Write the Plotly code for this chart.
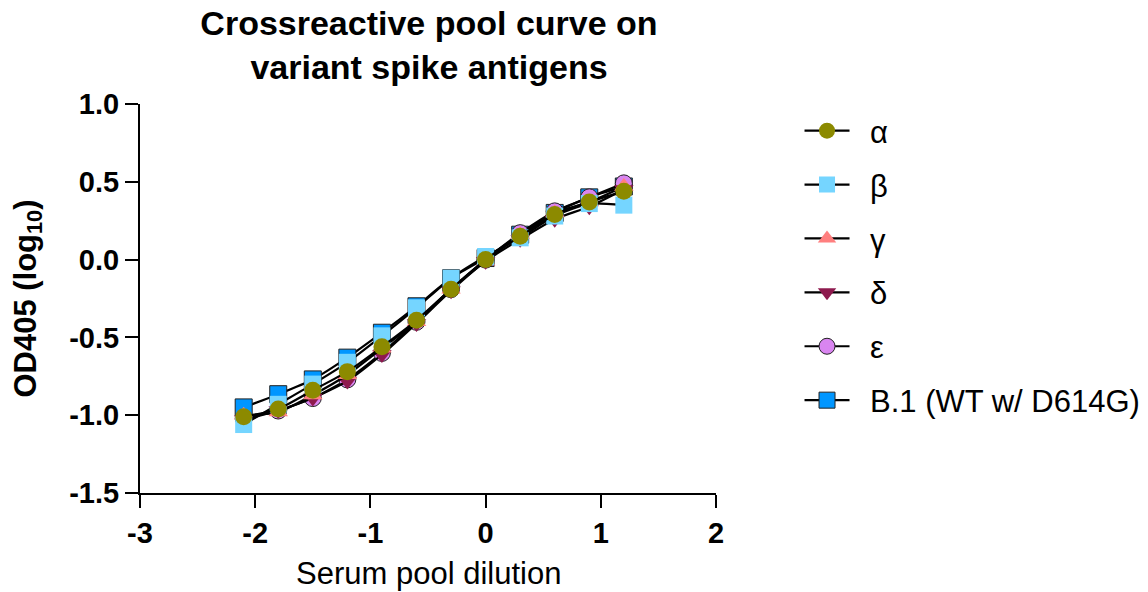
import plotly.graph_objects as go

# Serum pool dilution (log10)
dilution = [-2.1, -1.8, -1.5, -1.2, -0.9, -0.6, -0.3, 0.0, 0.3, 0.6, 0.9, 1.2]

# OD405 (log10) per variant spike antigen
alpha = [-1.01, -0.96, -0.84, -0.72, -0.56, -0.39, -0.19, 0.00, 0.15, 0.29, 0.37, 0.44]
beta = [-1.06, -0.93, -0.80, -0.66, -0.49, -0.31, -0.12, 0.02, 0.14, 0.28, 0.36, 0.35]
gamma = [-1.00, -0.98, -0.87, -0.74, -0.57, -0.40, -0.19, -0.01, 0.16, 0.30, 0.37, 0.47]
delta = [-1.03, -0.97, -0.89, -0.78, -0.61, -0.41, -0.20, -0.01, 0.13, 0.26, 0.34, 0.45]
epsilon = [-1.02, -0.97, -0.89, -0.77, -0.60, -0.40, -0.19, 0.00, 0.17, 0.31, 0.40, 0.49]
b1 = [-0.95, -0.865, -0.77, -0.63, -0.47, -0.30, -0.12, 0.01, 0.16, 0.30, 0.40, 0.47]

x_ticks = [-3, -2, -1, 0, 1, 2]
x_labels = ["-3", "-2", "-1", "0", "1", "2"]
y_ticks = [-1.5, -1.0, -0.5, 0.0, 0.5, 1.0]
y_labels = ["-1.5", "-1.0", "-0.5", "0.0", "0.5", "1.0"]

series = [
    ("α", alpha, "circle", "#8C8A00", 0),
    ("β", beta, "square", "#75D5FF", 0),
    ("γ", gamma, "triangle-up", "#FF7F7F", 0),
    ("δ", delta, "triangle-down", "#8E1A4E", 0),
    ("ε", epsilon, "circle", "#D985F0", 1),
    ("B.1 (WT w/ D614G)", b1, "square", "#0096FF", 1),
]

FONT = "Liberation Sans, Arial, sans-serif"

fig = go.Figure()
# draw last legend entry first so α sits on top
for i, (name, ys, sym, col, outline) in reversed(list(enumerate(series))):
    fig.add_trace(go.Scatter(
        x=dilution, y=ys, name="\u2002" + name, mode="lines+markers",
        line=dict(color="black", width=2.2, shape="spline", smoothing=0.6),
        marker=dict(symbol=sym, size=17, color=col,
                    line=dict(color="#222222", width=outline)),
        legendrank=i + 1, legendgroup=name,
    ))

fig.update_layout(
    width=1148, height=592,
    margin=dict(l=140, r=432, t=104, b=99, autoexpand=False),
    plot_bgcolor="white", paper_bgcolor="white",
    font=dict(family=FONT, color="black"),
    title=dict(text="<b>Crossreactive pool curve on<br>variant spike antigens</b>",
               x=429 / 1148, xanchor="center",
               y=1 - 35 / 592, yanchor="middle",
               font=dict(size=34, family=FONT, color="black")),
    showlegend=True,
    legend=dict(x=1.145, y=1.0, xanchor="left", yanchor="top",
                font=dict(size=31, family=FONT, color="black"),
                itemwidth=45, tracegroupgap=10.6, traceorder="grouped",
                bgcolor="rgba(0,0,0,0)"),
    annotations=[
        dict(text="Serum pool dilution", xref="paper", yref="paper",
             x=0.5, y=-0.208, xanchor="center", yanchor="middle", showarrow=False,
             font=dict(size=31, family=FONT, color="black")),
        dict(text="<b>OD405 (log<sub>10</sub>)</b>", xref="paper", yref="paper",
             x=-0.196, y=0.5, xanchor="center", yanchor="middle", showarrow=False,
             textangle=-90, font=dict(size=31, family=FONT, color="black")),
    ],
)

fig.update_xaxes(
    range=[-3, 2], tickvals=x_ticks, ticktext=x_labels,
    showline=True, linecolor="black", linewidth=2,
    ticks="outside", ticklen=13, tickwidth=2, tickcolor="black",
    showgrid=False, zeroline=False, automargin=False,
    tickfont=dict(size=29, family=FONT, color="black", weight="bold"),
)
fig.update_yaxes(
    range=[-1.5, 1.0], tickvals=y_ticks, ticktext=y_labels,
    showline=True, linecolor="black", linewidth=2,
    ticks="outside", ticklen=13, tickwidth=2, tickcolor="black",
    showgrid=False, zeroline=False, automargin=False,
    tickfont=dict(size=29, family=FONT, color="black", weight="bold"),
)

fig.write_html("out.html")
